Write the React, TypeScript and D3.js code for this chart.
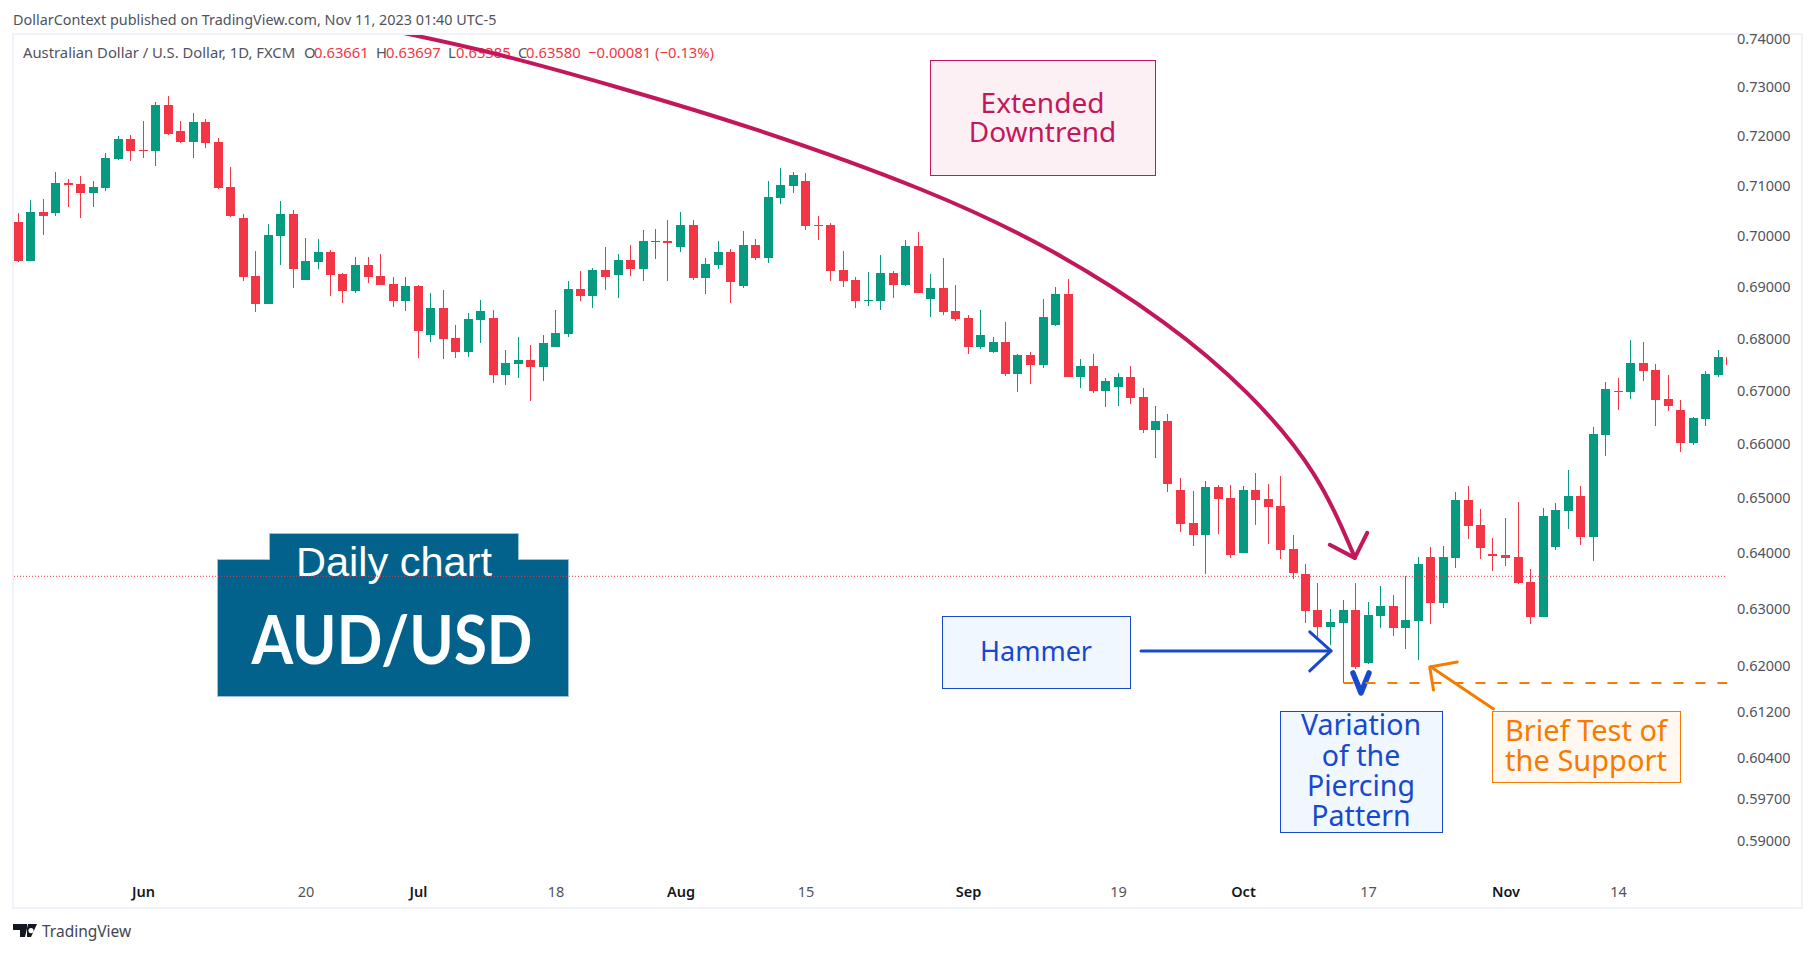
import * as d3 from 'd3'

const width = 1815
const height = 953

const opens = [
  .70274, .69506, .70473, .70453, .71051, .71030, .70851, .70950, .71535, .71939,
  .71717, .71697, .72635, .72102, .71879, .72287, .71879, .70970, .70353, .69212,
  .68666, .69996, .70433, .69134, .69486, .69682, .69251, .68917, .69428, .69212,
  .69055, .68724, .69016, .68068, .68589, .68011, .67742, .68358, .68396, .67305,
  .67514, .67590, .67457, .67837, .68088, .68956, .68821, .69330, .69232, .69526,
  .69349, .69878, .69898, .69780, .70214, .69173, .69428, .69682, .69016, .69820,
  .69565, .70751, .70990, .71091, .70214, .70214, .69330, .69134, .68724, .68724,
  .69271, .69036, .69800, .68763, .68975, .68531, .68396, .67837, .67742, .67932,
  .67324, .67685, .67495, .68261, .68859, .67267, .67476, .66998, .67077, .67267,
  .66885, .66265, .66434, .65151, .64549, .64330, .65206, .65003, .64003, .65151,
  .64985, .64858, .64075, .63626, .62981, .62680, .62750, .62981, .62042, .62874,
  .63054, .62662, .62786, .63930, .63107, .63912, .64967, .64512, .63984, .63966,
  .63930, .63483, .62857, .64112, .64767, .65040, .64294, .66171, .66998, .66979,
  .67533, .67400, .66848, .66641, .66021, .66472, .67305, .67647,
]
const highs = [
  .70453, .70711, .70731, .71273, .71131, .71192, .71091, .71657, .72000, .72020,
  .72307, .72697, .72820, .72307, .72471, .72348, .71960, .71374, .70433, .69702,
  .70234, .70692, .70513, .69957, .69937, .69722, .69271, .69584, .69584, .69643,
  .69192, .69192, .69036, .68878, .68936, .68261, .68493, .68743, .68551, .67780,
  .68030, .67875, .68068, .68551, .69114, .69310, .69369, .69780, .69643, .69820,
  .70115, .70135, .70314, .70473, .70314, .69565, .69898, .69741, .70095, .69937,
  .71091, .71354, .71273, .71253, .70393, .70254, .69702, .69192, .69290, .69624,
  .69310, .69918, .70075, .69251, .69565, .69036, .68454, .68551, .68030, .68319,
  .67704, .67742, .68763, .68994, .69153, .67609, .67704, .67248, .67343, .67476,
  .67058, .66716, .66566, .65373, .65132, .65317, .65243, .65243, .65225, .65465,
  .65262, .65410, .64330, .63805, .63465, .62998, .63161, .63465, .63125, .63411,
  .63250, .63590, .63930, .64112, .64130, .65114, .65225, .64803, .64276, .64640,
  .64931, .63715, .64822, .64913, .65521, .65225, .66321, .67172, .67248, .67970,
  .67932, .67514, .67305, .66829, .66509, .67381, .67780, .67647,
]
const lows = [
  .69486, .69506, .70016, .70393, .70572, .70353, .70572, .70890, .71515, .71495,
  .71556, .71394, .72020, .71859, .71556, .71758, .70930, .70373, .69114, .68512,
  .68666, .69428, .68975, .69134, .69349, .68821, .68686, .68878, .69075, .69036,
  .68608, .68531, .67628, .67932, .67609, .67628, .67647, .67913, .67153, .67115,
  .67248, .66810, .67191, .67837, .68030, .68724, .68589, .68936, .68782, .69212,
  .69114, .69545, .69114, .69682, .69134, .68859, .69349, .68686, .68975, .69526,
  .69467, .70632, .70851, .70115, .69918, .69114, .68994, .68589, .68628, .68551,
  .68782, .69016, .68878, .68416, .68454, .68338, .67704, .67799, .67723, .67286,
  .66979, .67134, .67438, .68242, .67267, .67058, .66961, .66697, .66716, .66754,
  .66209, .65743, .65114, .64385, .64130, .63626, .64348, .63912, .64003, .64512,
  .64166, .63894, .63537, .62750, .62467, .62361, .61691, .61938, .62025, .62662,
  .62520, .62290, .62096, .62733, .63018, .63733, .64257, .63894, .63680, .63769,
  .63447, .62733, .62857, .64057, .64439, .64148, .63859, .65780, .66641, .66848,
  .67191, .66340, .66622, .65854, .65983, .66340, .67267, .67495,
]
const closes = [
  .69506, .70473, .70393, .71051, .71010, .70851, .70970, .71556, .71939, .71697,
  .71697, .72635, .72041, .71879, .72287, .71859, .70950, .70393, .69192, .68666,
  .70016, .70433, .69349, .69506, .69682, .69232, .68917, .69428, .69192, .69036,
  .68724, .69016, .68146, .68589, .67989, .67742, .68377, .68531, .67305, .67533,
  .67590, .67457, .67913, .68107, .68956, .68821, .69330, .69192, .69526, .69349,
  .69898, .69898, .69859, .70214, .69173, .69447, .69682, .69094, .69820, .69565,
  .70771, .71010, .71212, .70194, .70194, .69310, .69114, .68724, .68743, .69271,
  .69036, .69800, .68878, .68975, .68512, .68377, .67837, .68068, .67932, .67324,
  .67685, .67495, .68416, .68859, .67267, .67476, .66998, .67191, .67267, .66867,
  .66265, .66434, .65262, .64530, .64330, .65206, .64985, .63966, .65151, .64967,
  .64840, .64057, .63644, .62963, .62680, .62768, .62981, .61973, .62892, .63054,
  .62662, .62804, .63805, .63107, .63930, .64967, .64494, .64094, .63948, .63912,
  .63465, .62857, .64676, .64785, .65040, .64294, .66190, .67039, .66979, .67533,
  .67381, .66829, .66716, .66021, .66491, .67324, .67647, .67495,
]

const priceTicks = [.74, .73, .72, .71, .70, .69, .68, .67, .66, .65, .64, .63, .62, .612, .604, .597, .59]
const dateLabels = ['Jun', '20', 'Jul', '18', 'Aug', '15', 'Sep', '19', 'Oct', '17', 'Nov', '14']
const dateBars = [10, 23, 32, 43, 53, 63, 76, 88, 98, 108, 119, 128]
const monthLabels = new Set(['Jun', 'Jul', 'Aug', 'Sep', 'Oct', 'Nov'])

const lastPrice = 0.6358
const supportPrice = 0.61691

// annotations, in bar number and price
const downtrendBars = [25.72, 36.92, 48.12, 59.08, 72.12, 82.76, 91.56, 98.28, 103.56, 106.92]
const downtrendPrices = [.74397, .7377, .72983, .72123, .7093, .69682, .68319, .66961, .65465, .63912]
const downtrendHeadBars = [104.9, 106.9, 107.9]
const downtrendHeadPrices = [.64148, .63912, .64367]
const hammerBars = [89.8, 105]
const hammerPrices = [.62255, .62255]
const hammerHeadBars = [103.3, 105, 103.3]
const hammerHeadPrices = [.62591, .62255, .61903]
const piercingBars = [106.76, 107.4, 108.04]
const piercingPrices = [.61868, .61521, .61868]
const testBars = [113, 118]
const testPrices = [.61973, .61243]
const testHeadBars = [115.1, 112.9, 113.2]
const testHeadPrices = [.6206, .61973, .61572]

const red = '#f23645'
const green = '#089981'
const crimson = '#c2185b'
const blue = '#1848cc'
const orange = '#f57c00'
const sansFont = '"Noto Sans", sans-serif'

const x = d3.scaleLinear().domain([0, 137]).range([18.5, 1731])
const y = d3.scaleLog().domain([0.59, 0.74]).range([841, 39])

const bars = opens.map((open, i) => ({ i, open, high: highs[i], low: lows[i], close: closes[i] }))

function trace(barNumbers: number[], prices: number[], curve?: d3.CurveFactory) {
  const line = d3.line<number>().x(b => x(b)).y((_, i) => y(prices[i]))
  if (curve) line.curve(curve)
  return line(barNumbers) ?? ''
}

function NoteBox({ left, top, right, bottom, fill, stroke, lines, lineY, fontSize }: {
  left: number; top: number; right: number; bottom: number; fill: string; stroke: string
  lines: string[]; lineY: number[]; fontSize: number
}) {
  return (
    <g>
      <rect x={left + 0.5} y={top + 0.5} width={right - left} height={bottom - top} fill={fill} stroke={stroke} />
      {lines.map((t, i) => (
        <text key={t} x={(left + right) / 2} y={lineY[i]} dy="0.36em" textAnchor="middle"
          fontFamily={sansFont} fontSize={fontSize} fill={stroke}>{t}</text>
      ))}
    </g>
  )
}

export default function App() {
  return (
    <svg width={width} height={height} viewBox={`0 0 ${width} ${height}`}
      style={{ position: 'absolute', left: 0, top: 0, background: '#fff' }}>
      <defs>
        <clipPath id="plot"><rect x={14} y={35} width={1713} height={872} /></clipPath>
      </defs>

      <text x={13} y={25} fontFamily={sansFont} fontSize={14.4} fill="#50535e">
        DollarContext published on TradingView.com, Nov 11, 2023 01:40 UTC-5
      </text>
      <rect x={13} y={34} width={1789} height={874} fill="none" stroke="#f0f3fa" strokeWidth={2} />

      {/* pair badge */}
      <path d="M217.5 559.5H269.5V533.5H518.5V559.5H568.5V696.5H217.5Z" fill="#03628c" stroke="#9fc3d6" />
      <text x={394} y={576} textAnchor="middle" fontFamily='"Liberation Sans", sans-serif' fontSize={41.5} fill="#fff">Daily chart</text>
      <text x={392} y={664} textAnchor="middle" fontFamily='Lato, sans-serif' fontWeight={700} fontSize={66}
        textLength={281} lengthAdjust="spacingAndGlyphs" fill="#fff">AUD/USD</text>

      {/* candles */}
      <g clipPath="url(#plot)" shapeRendering="crispEdges">
        {bars.map(b => {
          const color = b.close >= b.open && b.i !== 137 ? green : red
          const top = Math.round(y(Math.max(b.open, b.close)))
          const bottom = Math.round(y(Math.min(b.open, b.close)))
          const wickTop = Math.round(y(b.high))
          const wickBottom = Math.round(y(b.low))
          return (
            <g key={b.i} fill={color}>
              <rect x={Math.floor(x(b.i) - 0.5)} y={wickTop} width={1} height={wickBottom - wickTop} />
              <rect x={Math.floor(x(b.i) - 4.5)} y={top} width={9} height={Math.max(1, bottom - top)} />
            </g>
          )
        })}
      </g>

      <line x1={14} x2={1727} y1={y(lastPrice)} y2={y(lastPrice)} stroke={red} strokeDasharray="1 2" />

      {/* legend */}
      <g fontFamily={sansFont} fontSize={14.8} fill="#50535e">
        <text x={23} y={58}>Australian Dollar / U.S. Dollar, 1D, FXCM</text>
        <text x={304} y={58}>O</text>
        <text x={314} y={58} fill={red}>0.63661</text>
        <text x={376} y={58}>H</text>
        <text x={386} y={58} fill={red}>0.63697</text>
        <text x={448} y={58}>L</text>
        <text x={456} y={58} fill={red}>0.63385</text>
        <text x={518} y={58}>C</text>
        <text x={526} y={58} fill={red}>0.63580</text>
        <text x={588} y={58} fill={red}>−0.00081 (−0.13%)</text>
      </g>

      {/* axes */}
      <g fontFamily={sansFont} fontSize={14.5} fill="#50535e">
        {priceTicks.map(t => (
          <text key={t} x={1737} y={y(t)} dy="0.36em">{t.toFixed(5)}</text>
        ))}
        {dateLabels.map((t, i) => (
          <text key={t} x={x(dateBars[i])} y={892} dy="0.36em" textAnchor="middle"
            fontWeight={monthLabels.has(t) ? 600 : 400} fill={monthLabels.has(t) ? '#131722' : '#50535e'}>{t}</text>
        ))}
      </g>

      {/* drawings */}
      <g fill="none" strokeLinecap="round" strokeLinejoin="round">
        <g clipPath="url(#plot)">
          <path d={trace(downtrendBars, downtrendPrices, d3.curveNatural)} stroke={crimson} strokeWidth={4} />
        </g>
        <path d={trace(downtrendHeadBars, downtrendHeadPrices)} stroke={crimson} strokeWidth={4} />
        <path d={trace(hammerBars, hammerPrices)} stroke={blue} strokeWidth={3} />
        <path d={trace(hammerHeadBars, hammerHeadPrices)} stroke={blue} strokeWidth={3} />
        <path d={trace(piercingBars, piercingPrices)} stroke={blue} strokeWidth={5.5} />
        <line x1={x(106)} x2={x(136.7)} y1={y(supportPrice)} y2={y(supportPrice)} stroke={orange} strokeWidth={2}
          strokeDasharray="10 12" strokeLinecap="butt" />
        <path d={trace(testBars, testPrices)} stroke={orange} strokeWidth={3} />
        <path d={trace(testHeadBars, testHeadPrices)} stroke={orange} strokeWidth={3} />
      </g>

      <NoteBox left={930} top={60} right={1155} bottom={175} fill="#fdf0f5" stroke={crimson}
        lines={['Extended', 'Downtrend']} lineY={[103, 132]} fontSize={28} />
      <NoteBox left={942} top={616} right={1130} bottom={688} fill="#f0f7ff" stroke={blue}
        lines={['Hammer']} lineY={[651]} fontSize={27} />
      <NoteBox left={1280} top={711} right={1442} bottom={832} fill="#f0f7ff" stroke={blue}
        lines={['Variation', 'of the', 'Piercing', 'Pattern']} lineY={[725, 756, 786, 816]} fontSize={28.5} />
      <NoteBox left={1492} top={711} right={1680} bottom={782} fill="#fff8f0" stroke={orange}
        lines={['Brief Test of', 'the Support']} lineY={[731, 761]} fontSize={29} />

      {/* footer logo */}
      <path d="M13 924H27V937H20V930H13ZM28 924H37L31 937H25ZM31 928a2.6 2.6 0 1 0 0.01 0Z" fill="#131722" fillRule="evenodd" />
      <text x={42} y={937} fontFamily={sansFont} fontSize={15.5} fill="#434651">TradingView</text>
    </svg>
  )
}
